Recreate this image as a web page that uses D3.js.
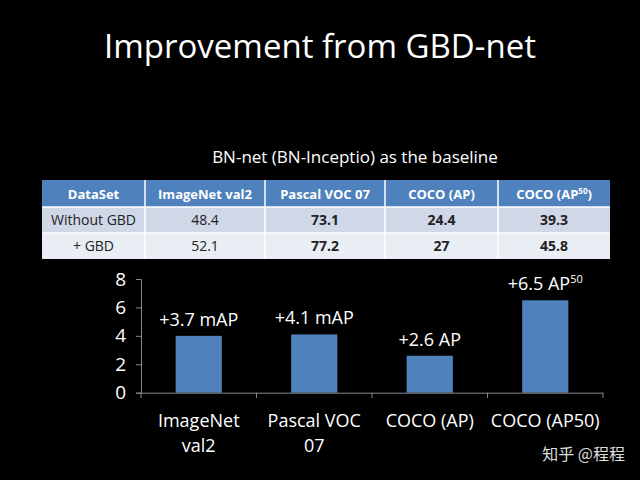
<!DOCTYPE html>
<html><head><meta charset="utf-8">
<script src="https://cdn.jsdelivr.net/npm/d3@7"></script>
<style>body{margin:0;background:#000}</style></head>
<body><svg id="c" width="640" height="480"></svg>
<script>
const categories = ["ImageNet\nval2", "Pascal  VOC\n07", "COCO (AP)", "COCO (AP50)"];
const values = [4.0, 4.1, 2.6, 6.5];
const barLabels = ["+3.7 mAP", "+4.1 mAP", "+2.6 AP", "+6.5 AP"];
const yTicks = [0, 2, 4, 6, 8];
const tableHeader = ["DataSet", "ImageNet val2", "Pascal  VOC 07", "COCO (AP)", "COCO (AP50)"];
const tableRows = [["Without GBD", "48.4", "73.1", "24.4", "39.3"], ["+ GBD", "52.1", "77.2", "27", "45.8"]];

const svg = d3.select("#c");
const F = "'Open Sans', 'Liberation Sans', sans-serif";
svg.append("rect").attr("width",640).attr("height",480).attr("fill","#000");
svg.append("text").attr("x",320).attr("y",58).attr("text-anchor","middle").attr("fill","#fff")
  .attr("font-family",F).attr("font-size",33).text("Improvement from GBD-net");
svg.append("text").attr("x",355).attr("y",163).attr("text-anchor","middle").attr("fill","#fff")
  .attr("font-family",F).attr("font-size",17).text("BN-net (BN-Inceptio) as the baseline");

const colX = [42,145,265,385,498,610];
const rowY = [180,207,233,259];
const rowFill = ["#4f81bd","#d0d8e8","#e9edf4"];
const allRows = [tableHeader, ...tableRows];
allRows.forEach((r,i)=>{
  svg.append("rect").attr("x",colX[0]).attr("y",rowY[i]).attr("width",colX[5]-colX[0]).attr("height",rowY[i+1]-rowY[i]).attr("fill",rowFill[i]);
  r.forEach((t,j)=>{
    const tx = svg.append("text").attr("x",(colX[j]+colX[j+1])/2).attr("y",(rowY[i]+rowY[i+1])/2+5)
      .attr("text-anchor","middle").attr("font-family",F).attr("font-size",i==0?13:14)
      .attr("fill",i==0?"#fff":"#222").attr("font-weight",(i==0||j>=2)?"bold":"normal");
    if(t==="COCO (AP50)"){tx.text("COCO (AP");tx.append("tspan").attr("font-size",8).attr("dy",-5).text("50");tx.append("tspan").attr("dy",5).text(")");}
    else tx.text(t);
  });
});
for(let j=1;j<5;j++) svg.append("line").attr("x1",colX[j]).attr("x2",colX[j]).attr("y1",180).attr("y2",259).attr("stroke","#fff").attr("stroke-width",1.5);
for(let i=1;i<3;i++) svg.append("line").attr("x1",42).attr("x2",610).attr("y1",rowY[i]).attr("y2",rowY[i]).attr("stroke","#fff").attr("stroke-width",1.5);

const x = d3.scaleBand().domain(categories).range([141,603]).paddingInner(0.6).paddingOuter(0.3);
const y = d3.scaleLinear().domain([0,8]).range([392.7,279]);
const g = svg.append("g");
g.selectAll(".bar").data(values).join("rect").attr("x",(d,i)=>x(categories[i])).attr("width",x.bandwidth())
  .attr("y",d=>y(d)).attr("height",d=>y(0)-y(d)).attr("fill","#4f81bd");
const ya = g.append("g").attr("transform","translate(141,0)").call(d3.axisLeft(y).tickValues(yTicks).tickSize(5).tickPadding(10));
const xa = g.append("g").attr("transform","translate(0,392.7)").call(d3.axisBottom(x).tickSize(0).tickFormat(""));
[ya,xa].forEach(a=>{a.selectAll("path,line").attr("stroke","#888");a.selectAll("text").attr("fill","#fff").attr("font-family",F).attr("font-size",19);});
d3.range(5).forEach(i=>{g.append("line").attr("x1",141+i*(462/4)).attr("x2",141+i*(462/4)).attr("y1",392.7).attr("y2",398).attr("stroke","#888");});
categories.forEach((c,i)=>{
  const cx = x(c)+x.bandwidth()/2;
  const t = g.append("text").attr("text-anchor","middle").attr("fill","#fff").attr("font-family",F).attr("font-size",18);
  c.split("\n").forEach((l,k)=>t.append("tspan").attr("x",cx).attr("y",427+k*25).text(l));
  const lt = g.append("text").attr("x",cx).attr("y",y(values[i])-10).attr("text-anchor","middle").attr("fill","#fff")
    .attr("font-family",F).attr("font-size",18).text(barLabels[i]);
  if(i===3) lt.append("tspan").attr("font-size",11).attr("dy",-7).text("50");
});
svg.append("text").attr("x",625).attr("y",460).attr("text-anchor","end").attr("fill","#ddd")
  .attr("font-family","'Noto Sans CJK SC'").attr("font-size",16).text("知乎 @程程");
</script></body></html>
